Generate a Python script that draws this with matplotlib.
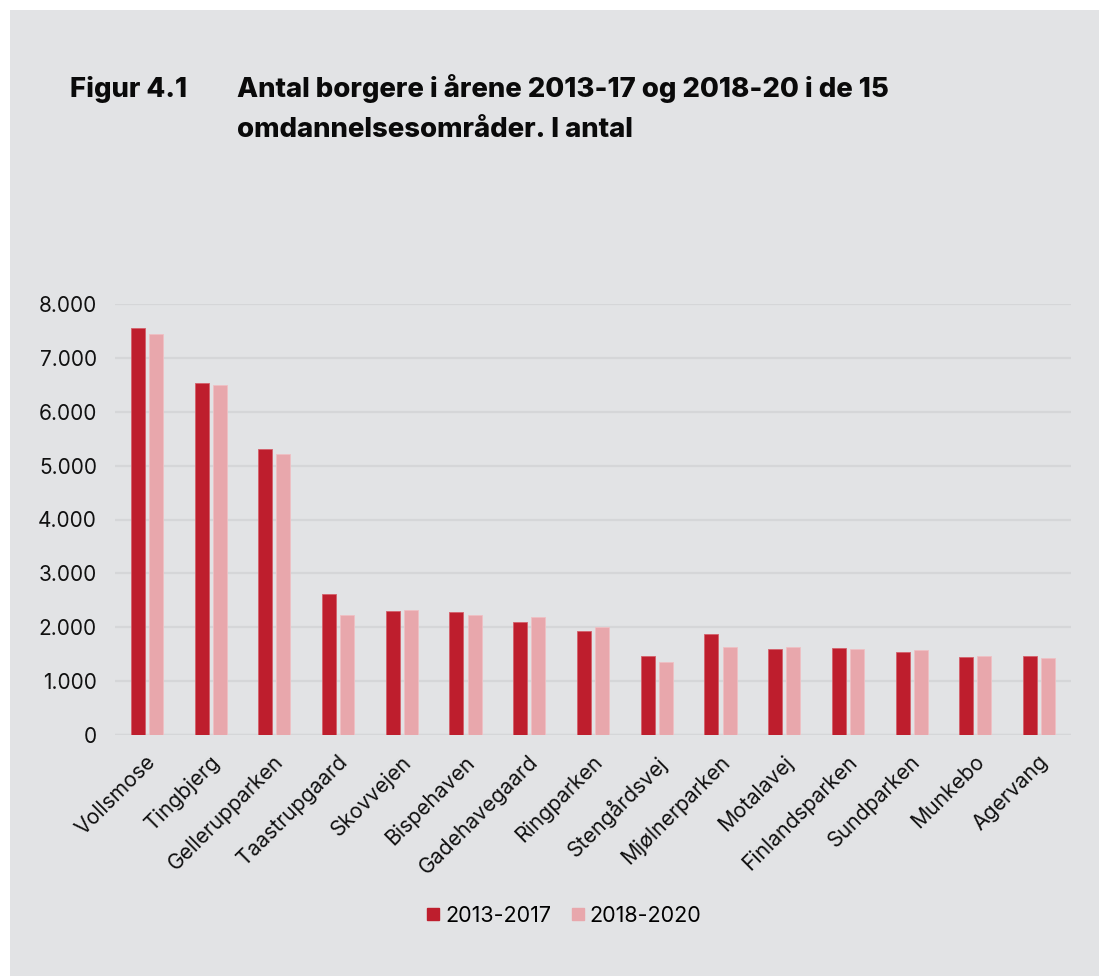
import matplotlib
matplotlib.use("Agg")
import matplotlib.pyplot as plt
from matplotlib.patches import Rectangle
from matplotlib.lines import Line2D
import numpy as np

categories = ["Vollsmose", "Tingbjerg", "Gellerupparken", "Taastrupgaard", "Skovvejen",
              "Bispehaven", "Gadehavegaard", "Ringparken", "Stengårdsvej", "Mjølnerparken",
              "Motalavej", "Finlandsparken", "Sundparken", "Munkebo", "Agervang"]
v_2013_2017 = [7550, 6530, 5310, 2615, 2295, 2290, 2105, 1935, 1470, 1875,
               1600, 1615, 1535, 1445, 1460]
v_2018_2020 = [7450, 6490, 5215, 2225, 2320, 2225, 2190, 2000, 1350, 1635,
               1635, 1595, 1570, 1460, 1430]
series_names = ["2013-2017", "2018-2020"]
yticks = [0, 1000, 2000, 3000, 4000, 5000, 6000, 7000, 8000]
ytick_labels = ["0", "1.000", "2.000", "3.000", "4.000", "5.000", "6.000", "7.000", "8.000"]
title_label = "Figur 4.1"
title_lines = ["Antal borgere i årene 2013-17 og 2018-20 i de 15",
               "omdannelsesområder. I antal"]

BG = "#e2e3e5"
GRID = "#d5d6d8"
DARK = "#be1e2d"
LIGHT = "#e8a7ac"
FONT = ["Inter", "DejaVu Sans"]
plt.rcParams["font.family"] = FONT

W, H = 1099, 976
fig = plt.figure(figsize=(W / 100, H / 100), dpi=100)
fig.patch.set_facecolor("white")
fig.patches.append(Rectangle((10 / W, 0), 1 - 10 / W, 1 - 10 / H, transform=fig.transFigure,
                             facecolor=BG, edgecolor="none", zorder=-10))

ax = fig.add_axes([115 / W, 1 - 735 / H, (1071 - 115) / W, (735 - 304) / H])
ax.set_facecolor(BG)
ax.patch.set_alpha(0)

x = np.arange(len(categories))
bw = 0.22
off = 0.142
ax.bar(x - off, v_2013_2017, width=bw, color=DARK, edgecolor="#d4606b", linewidth=0.6,
       zorder=3, label=series_names[0])
ax.bar(x + off, v_2018_2020, width=bw, color=LIGHT, edgecolor="#efc0c4", linewidth=0.6,
       zorder=3, label=series_names[1])

ax.set_xlim(-0.5, len(categories) - 0.5)
ax.set_ylim(0, 8000)
ax.set_yticks(yticks)
ax.set_yticklabels(ytick_labels, fontsize=15, color="#111111")
ax.yaxis.grid(True, color=GRID, linewidth=1.6, zorder=0)
ax.set_axisbelow(True)
for s in ax.spines.values():
    s.set_visible(False)
ax.tick_params(axis="y", length=0, pad=13)
ax.tick_params(axis="x", length=0, pad=12)
ax.set_xticks(x - 0.02)
ax.set_xticklabels(categories, rotation=45, ha="right", rotation_mode="anchor",
                   fontsize=15.2, color="#111111")
ax.axhline(0, color=GRID, linewidth=1.6, zorder=1)

tkw = dict(fontsize=19.8, fontweight="heavy", va="baseline", ha="left", color="#0a0a0a")
fig.text(70 / W, 1 - 97 / H, title_label, **tkw)
fig.text(237 / W, 1 - 97 / H, title_lines[0], **tkw)
fig.text(237 / W, 1 - 137 / H, title_lines[1], **tkw)

handles = [Line2D([], [], marker="s", linestyle="none", markersize=8.5, color=DARK),
           Line2D([], [], marker="s", linestyle="none", markersize=8.5, color=LIGHT)]
fig.legend(handles, series_names, loc="center", bbox_to_anchor=(562 / W, 1 - 916 / H),
           ncol=2, frameon=False, fontsize=15.5, handletextpad=0.05, columnspacing=0.75,
           handlelength=1.0)

fig.savefig("out.png", dpi=100, facecolor=fig.get_facecolor())
